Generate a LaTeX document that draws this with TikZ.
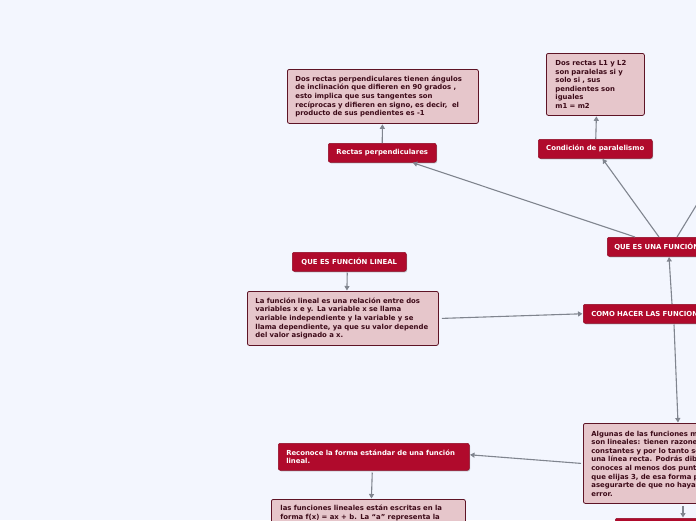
\documentclass[tikz,border=0pt]{standalone}
\usepackage{fontspec}
\setmainfont{DejaVu Sans}
\usetikzlibrary{arrows.meta,shadows}
\definecolor{bgc}{HTML}{F3F6FE}
\definecolor{crim}{HTML}{B00A2C}
\definecolor{crimd}{HTML}{8E0822}
\definecolor{pinkc}{HTML}{E6C6CB}
\definecolor{pbord}{HTML}{5E1426}
\definecolor{ptext}{HTML}{3C0A18}
\definecolor{linec}{HTML}{80858F}
\tikzset{
  txt/.style={font=\fontsize{6.9}{8.6}\selectfont\bfseries},
  pbox/.style={txt, rounded corners=2pt, fill=pinkc, draw=pbord, line width=0.8pt,
    text=ptext, align=left, inner xsep=8pt, inner ysep=0pt, anchor=north west},
  rbox/.style={txt, rounded corners=2pt, fill=crim, draw=crimd, line width=0.5pt,
    text=white, anchor=north west, minimum height=19pt, inner ysep=0pt,
    drop shadow={shadow xshift=0.8pt, shadow yshift=-1pt, fill=black, opacity=0.25}},
  conn/.style={draw=linec, line width=1.1pt, -{Triangle[width=5pt,length=4.5pt]},
    shorten >=0.5pt}
}
\begin{document}
\begin{tikzpicture}[x=1pt,y=-1pt]
\useasboundingbox (0,0) rectangle (696,520);
\clip (0,0) rectangle (696,520);
\fill[bgc] (0,0) rectangle (696,520);

% pink boxes
\node[pbox, minimum width=191pt, minimum height=54pt, text width=175pt] (perpbox) at (287,69)
  {Dos rectas perpendiculares tienen ángulos\\de inclinación que difieren en 90 grados ,\\esto implica que sus tangentes son\\recíprocas y difieren en signo, es decir,~ el\\producto de sus pendientes es -1};
\node[pbox, minimum width=95pt, minimum height=62pt, text width=80pt, inner xsep=9pt] (parbox) at (546,53)
  {Dos rectas L1 y L2\\son paralelas si y\\solo si , sus\\pendientes son\\iguales\\m1 = m2};
\node[pbox, minimum width=191pt, minimum height=54pt, text width=175pt] (linbox) at (247,291)
  {La función lineal es una relación entre dos\\variables x e y. La variable x se llama\\variable independiente y la variable y se\\llama dependiente, ya que su valor depende\\del valor asignado a x.};
\node[pbox, minimum width=200pt, minimum height=80pt, text width=184pt] (algbox) at (583,423)
  {Algunas de las funciones más sencillas\\son lineales: tienen razones\\constantes y por lo tanto se grafican\\una línea recta. Podrás dibujarlas si\\conoces al menos dos puntos, pero es mejor\\que elijas 3, de esa forma podrás\\asegurarte de que no hayas cometido\\error.};
\node[pbox, minimum width=192pt, text width=176pt, inner xsep=9pt, inner ysep=6pt] (lasbox) at (271,499)
  {las funciones lineales están escritas en la\\forma f(x) = ax + b. La “a” representa la\\pendiente de la recta};

% red boxes
\node[rbox, minimum width=108pt] (perp) at (328,143) {Rectas perpendiculares};
\node[rbox, minimum width=114pt] (par) at (538,139) {Condición de paralelismo};
\node[rbox, minimum width=130pt, text width=116pt, inner xsep=7pt, align=left] (quees) at (607,237) {QUE ES UNA FUNCIÓN};
\node[rbox, minimum width=114pt] (queslin) at (292,252) {QUE ES FUNCIÓN LINEAL};
\node[rbox, minimum width=160pt, text width=144pt, inner xsep=8pt, align=left] (como) at (583,304) {COMO HACER LAS FUNCIONES};
\node[rbox, minimum width=191pt, minimum height=27pt, text width=175pt, inner xsep=8pt, align=left] (recon) at (278,443) {Reconoce la forma estándar de una función\\lineal.};
\node[rbox, minimum width=120pt, minimum height=20pt] (bottom) at (615,518) {};
\coordinate (offr) at (702,196);

% connectors
\draw[conn] ([xshift=28pt]quees.north west) -- ([xshift=30pt]perp.south);
\draw[conn] ([xshift=52pt]quees.north west) -- ([xshift=7pt]par.south);
\draw[draw=linec, line width=1.1pt] ([xshift=70pt]quees.north west) -- (offr);
\draw[conn] ([xshift=89pt]como.north west) -- ([xshift=62pt]quees.south west);
\draw[conn] (perp.north) -- ([xshift=-0.5pt]perpbox.south);
\draw[conn] ([xshift=0.5pt]par.north) -- ([xshift=1pt]parbox.south);
\draw[conn] ([xshift=-2pt,yshift=-1pt]queslin.south) -- ([xshift=4pt]linbox.north);
\draw[conn] ([xshift=3pt]linbox.east) -- (como.west);
\draw[conn] ([xshift=91pt,yshift=-1pt]como.south west) -- ([xshift=95pt]algbox.north west);
\draw[conn] ([xshift=-2pt]algbox.west) -- ([yshift=2pt]recon.east);
\draw[conn] ([xshift=-1.5pt,yshift=-2pt]recon.south) -- ([xshift=3pt]lasbox.north);
\draw[conn] ([xshift=100pt,yshift=-2pt]algbox.south west) -- ([xshift=68pt]bottom.north west);
\end{tikzpicture}
\end{document}
